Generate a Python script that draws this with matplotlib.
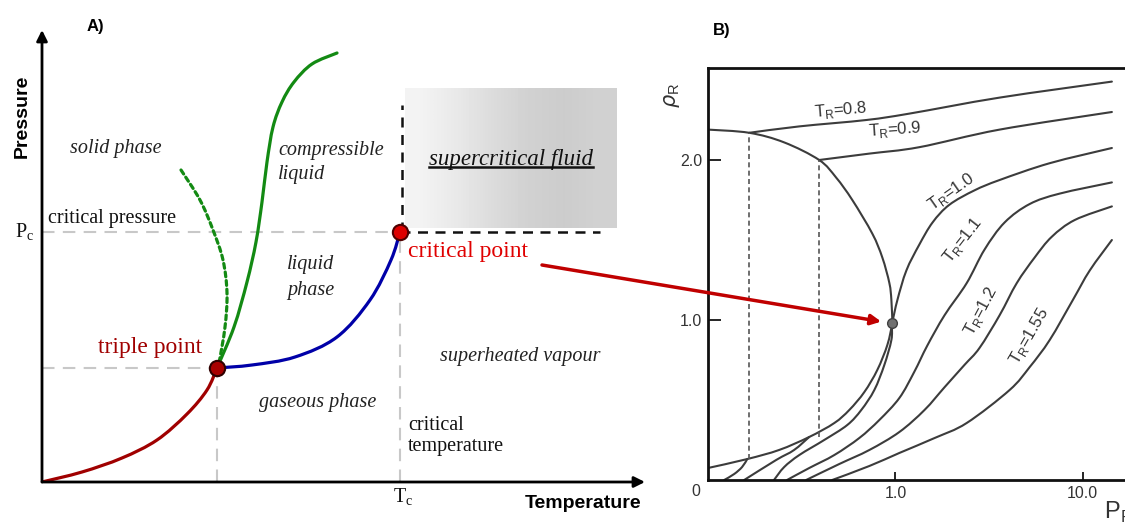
import numpy as np
import matplotlib
matplotlib.use("Agg")
import matplotlib.pyplot as plt
from matplotlib.patches import ConnectionPatch, PathPatch
from matplotlib.path import Path
from matplotlib.ticker import NullLocator

OUT = "out.png"
SERIF = "Liberation Serif"
SANS = "Liberation Sans"

# ---------------- panel A: schematic P-T diagram (arbitrary units) ----------------
A_XMAX, A_YMAX = 603, 452
TRIPLE = (175, 114)
CRIT = (358, 250)

sub_T = [0, 40, 80, 115, 145, 165, 175]
sub_P = [0, 10, 24, 42, 68, 92, 114]
vap_T = [175, 210, 253, 295, 328, 349, 358]
vap_P = [114, 117, 125, 145, 182, 222, 250]
melt_T = [175, 192, 205, 214, 220, 225, 231, 240, 252, 270, 295]
melt_P = [114, 155, 200, 240, 280, 320, 355, 380, 400, 418, 429]
melt_anom_T = [139, 158, 171, 181, 185, 183, 177, 175]
melt_anom_P = [312, 282, 252, 222, 189, 155, 119, 114]

sc_box = [363, 575, 254, 394]          # T0, T1, P0, P1 of the shaded region
sc_shades = [0.95, 0.91, 0.86, 0.82, 0.80, 0.82]
sc_dash_top = 377
sc_dash_right = 558

# ---------------- panel B: reduced density vs reduced pressure ----------------
dome_liq_P = [0.1, 0.166, 0.255, 0.392, 0.483, 0.589, 0.753, 0.852, 0.929, 0.952, 0.964]
dome_liq_rho = [2.19, 2.17, 2.11, 2.00, 1.89, 1.75, 1.54, 1.39, 1.23, 1.125, 0.98]
dome_vap_P = [0.964, 0.906, 0.801, 0.683, 0.568, 0.472, 0.347, 0.240, 0.162, 0.1]
dome_vap_rho = [0.98, 0.844, 0.688, 0.55, 0.438, 0.356, 0.269, 0.188, 0.131, 0.075]

t08_liq_P = [0.166, 0.307, 0.700, 1.188, 3.60, 14.3]
t08_liq_rho = [2.17, 2.21, 2.25, 2.29, 2.39, 2.49]
t08_vap_P = [0.122, 0.138, 0.152, 0.162]
t08_vap_rho = [0.0, 0.0375, 0.081, 0.131]

t09_liq_P = [0.392, 0.726, 1.34, 3.60, 14.3]
t09_liq_rho = [2.00, 2.04, 2.08, 2.19, 2.30]
t09_vap_P = [0.156, 0.231, 0.288, 0.347]
t09_vap_rho = [0.0, 0.125, 0.1875, 0.269]

t10_P = [0.225, 0.255, 0.307, 0.417, 0.554, 0.658, 0.772, 0.873, 0.952, 0.964,
         1.025, 1.145, 1.34, 1.58, 1.94, 2.64, 3.60, 6.66, 14.3]
t10_rho = [0.0, 0.081, 0.156, 0.25, 0.344, 0.438, 0.5625, 0.719, 0.875, 0.98,
           1.125, 1.31, 1.47, 1.61, 1.72, 1.81, 1.875, 1.98, 2.075]
t11_P = [0.264, 0.347, 0.472, 0.642, 0.821, 1.05, 1.26, 1.48, 1.83, 2.40,
         2.99, 3.83, 5.21, 7.53, 14.3]
t11_rho = [0.0, 0.075, 0.156, 0.2625, 0.375, 0.5125, 0.675, 0.84, 1.03, 1.23,
           1.44, 1.61, 1.725, 1.79, 1.86]
t12_P = [0.334, 0.502, 0.726, 1.05, 1.43, 1.83, 2.34, 2.81, 3.60, 4.44,
         5.53, 6.83, 9.06, 14.3]
t12_rho = [0.0, 0.1, 0.1875, 0.3, 0.4375, 0.58, 0.72, 0.825, 1.03, 1.23,
           1.39, 1.52, 1.625, 1.71]
t155_P = [0.460, 0.726, 1.05, 1.62, 2.40, 4.07, 5.21, 6.66, 8.85, 10.9, 14.3]
t155_rho = [0.0, 0.0875, 0.169, 0.2625, 0.356, 0.5625, 0.706, 0.875, 1.125, 1.31, 1.5]

crit_B = (0.964, 0.98)
tie_lines = [(0.166, 0.131, 2.17), (0.392, 0.269, 2.00)]

tr_labels = ["0.8", "0.9", "1.0", "1.1", "1.2", "1.55"]
tr_label_P = [0.508, 1.0, 1.99, 2.28, 2.88, 5.21]
tr_label_rho = [2.31, 2.19, 1.80, 1.50, 1.056, 0.90]
tr_label_rot = [5, 4, 35, 52, 62, 60]


def smooth_path(xs, ys, logx=False):
    # Catmull-Rom through the read points, drawn as cubic Bezier segments
    x = np.log10(xs) if logx else np.asarray(xs, float)
    y = np.asarray(ys, float)
    pts = np.column_stack([x, y])
    ext = np.vstack([pts[0], pts, pts[-1]])
    verts = [pts[0]]
    codes = [Path.MOVETO]
    for i in range(1, len(ext) - 2):
        p0, p1, p2, p3 = ext[i - 1], ext[i], ext[i + 1], ext[i + 2]
        verts += [p1 + (p2 - p0) / 6, p2 - (p3 - p1) / 6, p2]
        codes += [Path.CURVE4] * 3
    verts = np.array(verts)
    if logx:
        verts[:, 0] = 10 ** verts[:, 0]
    return Path(verts, codes)


def curve(ax, xs, ys, logx=False, **kw):
    ax.add_patch(PathPatch(smooth_path(xs, ys, logx), fill=False, capstyle="round", **kw))


def main():
    fig = plt.figure(figsize=(11.25, 5.24), dpi=100)

    # ---- panel A ----
    axA = fig.add_axes([42 / 1125, 42 / 524, 603 / 1125, 452 / 524])
    axA.set_xlim(0, A_XMAX)
    axA.set_ylim(0, A_YMAX)
    axA.axis("off")

    x0, x1, y0, y1 = sc_box
    axA.imshow(np.array([sc_shades]), cmap="gray", vmin=0, vmax=1,
               extent=[x0, x1, y0, y1], aspect="auto", interpolation="bilinear", zorder=0)
    axA.set_xlim(0, A_XMAX)
    axA.set_ylim(0, A_YMAX)

    grey = dict(color="#c8c8c8", lw=1.5, dashes=(6, 4), zorder=1)
    axA.plot([0, TRIPLE[0]], [TRIPLE[1], TRIPLE[1]], **grey)
    axA.plot([TRIPLE[0], TRIPLE[0]], [0, TRIPLE[1]], **grey)
    axA.plot([0, CRIT[0]], [CRIT[1], CRIT[1]], **grey)
    axA.plot([CRIT[0], CRIT[0]], [0, CRIT[1]], **grey)

    blk = dict(color="#111111", lw=1.8, dashes=(4, 3), zorder=2)
    axA.plot([CRIT[0] + 2, CRIT[0] + 2], [CRIT[1], sc_dash_top], **blk)
    axA.plot([CRIT[0], sc_dash_right], [CRIT[1], CRIT[1]], **blk)

    curve(axA, sub_T, sub_P, edgecolor="#a00000", lw=2.3, zorder=3)
    curve(axA, vap_T, vap_P, edgecolor="#0000a8", lw=2.3, zorder=3)
    curve(axA, melt_T, melt_P, edgecolor="#138a13", lw=2.3, zorder=3)
    curve(axA, melt_anom_T, melt_anom_P, edgecolor="#138a13", lw=2.3,
          linestyle=(0, (1.5, 1.2)), zorder=3)

    axA.plot(*TRIPLE, "o", ms=11, mfc="#a80000", mec="#300000", mew=1.5, zorder=5, clip_on=False)
    axA.plot(*CRIT, "o", ms=11, mfc="#dd0000", mec="#500000", mew=1.5, zorder=5, clip_on=False)

    arr = dict(arrowstyle="-|>", color="black", lw=2, mutation_scale=16, shrinkA=0, shrinkB=0)
    axA.annotate("", xy=(A_XMAX, 0), xytext=(0, 0), arrowprops=arr, annotation_clip=False)
    axA.annotate("", xy=(0, A_YMAX), xytext=(0, 0), arrowprops=arr, annotation_clip=False)

    it = dict(family=SERIF, style="italic", fontsize=14.5, color="#222222")
    rg = dict(family=SERIF, fontsize=14.5, color="#111111")
    axA.text(74, 333, "solid phase", ha="center", va="center", **it)
    axA.text(236, 332, "compressible", ha="left", va="center", **it)
    axA.text(236, 307, "liquid", ha="left", va="center", **it)
    axA.text(269, 217, "liquid", ha="center", va="center", **it)
    axA.text(269, 192, "phase", ha="center", va="center", **it)
    axA.text(276, 80, "gaseous phase", ha="center", va="center", **it)
    axA.text(478, 126, "superheated vapour", ha="center", va="center", **it)
    axA.text(6, 264, "critical pressure", ha="left", va="center", **rg)
    axA.text(366, 57, "critical", ha="left", va="center", **rg)
    axA.text(366, 35, "temperature", ha="left", va="center", **rg)
    axA.text(-17, CRIT[1], r"P$_\mathregular{c}$", ha="center", va="center", **rg)
    axA.text(CRIT[0] + 3, -15, r"T$_\mathregular{c}$", ha="center", va="center", **rg)
    axA.text(108, 135, "triple point", ha="center", va="center",
             family=SERIF, fontsize=17, color="#a00000")
    axA.text(366, 231, "critical point", ha="left", va="center",
             family=SERIF, fontsize=17, color="#e00000")
    sc = axA.text(469, 317, "supercritical fluid", ha="center", va="baseline",
                  family=SERIF, style="italic", fontsize=16.5, color="#111111")

    fig.text(95 / 1125, 1 - 26 / 524, "A)", family=SANS, weight="bold", fontsize=12,
             ha="center", va="center")
    fig.text(722 / 1125, 1 - 30 / 524, "B)", family=SANS, weight="bold", fontsize=12,
             ha="center", va="center")
    fig.text(22 / 1125, 1 - 116 / 524, "Pressure", family=SANS, weight="bold",
             fontsize=14, rotation=90, ha="center", va="center")
    fig.text(583 / 1125, 1 - 503 / 524, "Temperature", family=SANS, weight="bold",
             fontsize=14, ha="center", va="center")

    # ---- panel B ----
    axB = fig.add_axes([708 / 1125, 44 / 524, 432 / 1125, 412 / 524])
    axB.set_xscale("log")
    axB.set_xlim(0.1, 20.2)
    axB.set_ylim(0, 2.575)
    for s in ("left", "top", "bottom"):
        axB.spines[s].set_linewidth(2)
        axB.spines[s].set_color("#111111")
    axB.spines["right"].set_visible(False)

    axB.set_xticks([1, 10])
    axB.set_xticklabels(["1.0", "10.0"])
    axB.xaxis.set_minor_locator(NullLocator())
    axB.set_yticks([1, 2])
    axB.set_yticklabels(["1.0", "2.0"])
    axB.tick_params(axis="x", direction="in", length=6, width=1.2, pad=4,
                    labelsize=11.5, labelcolor="#333333")
    axB.tick_params(axis="y", direction="in", length=9, width=1.2, pad=4,
                    labelsize=11.5, labelcolor="#333333")
    for lab in axB.get_xticklabels() + axB.get_yticklabels():
        lab.set_family(SANS)
    axB.annotate("0", xy=(0, 0), xycoords="axes fraction", xytext=(-9, -3),
                 textcoords="offset points", ha="center", va="top",
                 family=SANS, fontsize=11.5, color="#333333")

    lc = dict(edgecolor="#3c3c3c", lw=1.5)
    curve(axB, dome_liq_P, dome_liq_rho, logx=True, **lc)
    curve(axB, dome_vap_P, dome_vap_rho, logx=True, **lc)
    curve(axB, t08_liq_P, t08_liq_rho, logx=True, **lc)
    curve(axB, t08_vap_P, t08_vap_rho, logx=True, **lc)
    curve(axB, t09_liq_P, t09_liq_rho, logx=True, **lc)
    curve(axB, t09_vap_P, t09_vap_rho, logx=True, **lc)
    curve(axB, t10_P, t10_rho, logx=True, **lc)
    curve(axB, t11_P, t11_rho, logx=True, **lc)
    curve(axB, t12_P, t12_rho, logx=True, **lc)
    curve(axB, t155_P, t155_rho, logx=True, **lc)
    for p, lo, hi in tie_lines:
        axB.plot([p, p], [lo, hi], color="#555555", lw=1.2, dashes=(3, 2))
    axB.plot(*crit_B, "o", ms=7, mfc="#707070", mec="#404040", mew=1)

    for lab, p, r, rot in zip(tr_labels, tr_label_P, tr_label_rho, tr_label_rot):
        axB.text(p, r, r"T$_\mathregular{R}$=" + lab, rotation=rot, ha="center", va="center",
                 family=SANS, fontsize=12, color="#333333", rotation_mode="anchor")

    fig.text(672 / 1125, 1 - 95 / 524, r"$\rho_\mathregular{R}$", rotation=90,
             fontsize=15, color="#333333", ha="center", va="center", family=SANS)
    fig.text(1104 / 1125, 1 - 512 / 524, r"P$_\mathregular{R}$", fontsize=17,
             color="#333333", ha="left", va="center", family=SANS)

    # arrow from the critical point label to the critical point in panel B
    con = ConnectionPatch(xyA=(500, 217), coordsA=axA.transData,
                          xyB=(0.84, 0.99), coordsB=axB.transData,
                          arrowstyle="-|>", color="#c00000", lw=2.5,
                          mutation_scale=15, shrinkA=0, shrinkB=0, zorder=10)
    fig.add_artist(con)

    # underline the supercritical fluid label
    fig.canvas.draw()
    bb = sc.get_window_extent()
    inv = axA.transData.inverted()
    (ux0, _), (ux1, _) = inv.transform([(bb.x0, bb.y0), (bb.x1, bb.y0)])
    axA.plot([ux0, ux1], [315, 315], color="#111111", lw=1.8, zorder=4)

    fig.savefig(OUT, dpi=100)
    plt.close(fig)


if __name__ == "__main__":
    main()
